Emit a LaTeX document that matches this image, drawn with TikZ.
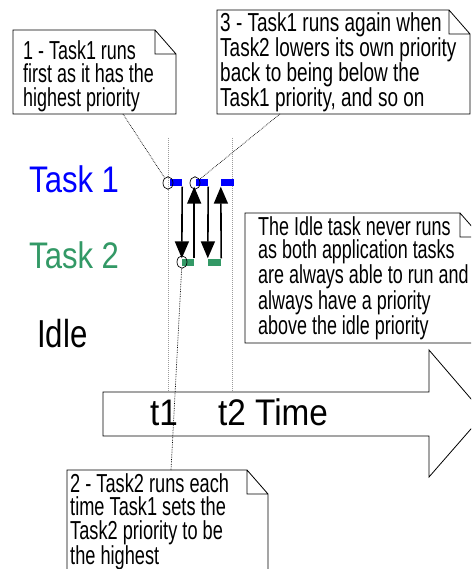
\documentclass[tikz,border=0pt]{standalone}
\usepackage{fontspec}
\setmainfont{Liberation Sans}
\usetikzlibrary{arrows.meta,shapes.geometric}
\definecolor{task1}{RGB}{0,0,255}
\definecolor{task2}{RGB}{51,153,102}
\definecolor{guidegray}{RGB}{155,155,155}
\tikzset{
  note/.style n args={5}{
    anchor=north west,
    align=left,
    inner sep=0pt,
    font={\fontsize{26}{23.5}\selectfont\addfontfeatures{FakeStretch=#5}},
    append after command={%
      \pgfextra{%
        \draw[note line] ([shift={(-#1pt,#2pt)}]\tikzlastnode.north west)
          -- ++(#3-\pgfkeysvalueof{/tikz/notes/fold x},0)
          -- ++(\pgfkeysvalueof{/tikz/notes/fold x},\pgfkeysvalueof{/tikz/notes/fold y})
          -- ++(0,#4-\pgfkeysvalueof{/tikz/notes/fold y})
          -- ++(-#3,0) -- cycle
          ([shift={(-#1pt,#2pt)}]\tikzlastnode.north west) ++(#3-\pgfkeysvalueof{/tikz/notes/fold x},0)
          -- ++(0,\pgfkeysvalueof{/tikz/notes/fold y})
          -- ++(\pgfkeysvalueof{/tikz/notes/fold x},0);
      }
    }
  },
  note line/.style={line width=0.8pt},
  callout/.style={densely dotted, line width=0.7pt},
  guide/.style={guidegray, densely dotted, line width=1pt},
  time arrow/.style={draw, fill=white, line width=0.8pt},
  time label/.style={inner sep=0pt, font={\fontsize{37}{40}\selectfont\addfontfeatures{FakeStretch=0.9}}},
  task label/.style={anchor=base west, inner sep=0pt, font={\fontsize{37}{40}\selectfont\addfontfeatures{FakeStretch=0.84}}},
  run/.style={rectangle, draw=none, inner sep=0pt, minimum height=7pt},
  switch/.style={line width=1.6pt, -{Triangle[width=14pt,length=17pt]}},
  switch mark/.style={ellipse, draw, inner sep=0pt, minimum width=10pt, minimum height=12.5pt, line width=0.7pt},
  notes/.cd,
  fold x/.initial=21,
  fold y/.initial=24,
}

\begin{document}
\begin{tikzpicture}[x=1pt,y=-1pt]
  \useasboundingbox (0,0) rectangle (471,569);
  \clip (0,0) rectangle (471,569);
  \coordinate (t1 mark) at (168,138);
  \coordinate (t2 mark) at (232,138);
  \coordinate (shaft) at (103,392);
  \draw[guide] (t1 mark) -- (t1 mark |- shaft);
  \draw[guide] (t2 mark) -- (t2 mark |- shaft);
  \draw[time arrow] (shaft) -- (429,392) -- (429,350) -- (484,414) -- (429,477) -- (429,436) -- (103,436) -- cycle;
  \node[time label, anchor=base] (t1) at (164,425) {t1};
  \node[time label, anchor=base west] (time) at (218,425) {t2 Time};
  \node[task label, text=task1] (task1) at (29,193) {Task 1};
  \node[task label, text=task2] (task2) at (29,268) {Task 2};
  \node[task label, font={\fontsize{39}{42}\selectfont\addfontfeatures{FakeStretch=0.8}}] (idle) at (37,347) {Idle};
  \foreach \run/\xa/\xb/\y/\clr in {b1/170/182/183/task1, g1/182/194/262/task2, b2/196/208/183/task1, g2/208/221/262/task2, b3/221/234/183/task1}
    \node[run, fill=\clr, minimum width={(\xb-\xa)*1pt}] (\run) at ({(\xa+\xb)/2},\y) {};
  \draw[switch] (b1.south east) -- (g1.north west);
  \draw[switch] (g1.north east) -- (g1.north east |- b2.south);
  \draw[switch] (b2.south east) -- (g2.north west);
  \draw[switch] (g2.north east) -- (b3.south west);
  \node[switch mark] (c1) at (168,183) {};
  \node[switch mark] (c2) at (182,262) {};
  \node[switch mark] (c3) at (195,183) {};
  \node[note={10}{10}{163}{84}{0.69}] (note1) at (23,40) {1 - Task1 runs\\first as it has the\\highest priority};
  \node[note={3}{2}{253}{104}{0.73}] (note3) at (220,12) {3 - Task1 runs again when\\Task2 lowers its own priority\\back to being below the\\Task1 priority, and so on};
  \node[note={13}{3}{236}{130}{0.69}] (idle note) at (258,216) {The Idle task never runs\\as both application tasks\\are always able to run and\\always have a priority\\above the idle priority};
  \node[note={3}{3}{201}{100}{0.70}] (note2) at (70,473) {2 - Task2 runs each\\time Task1 sets the\\Task2 priority to be\\the highest};
  \coordinate (note1 tail) at (123,114);
  \coordinate (note3 tail) at (280,114);
  \coordinate (note2 tail) at (171,470);
  \draw[callout] (note1 tail) -- (c1);
  \draw[callout] (note3 tail) -- (c3);
  \draw[callout] (note2 tail) -- (c2);
\end{tikzpicture}
\end{document}
